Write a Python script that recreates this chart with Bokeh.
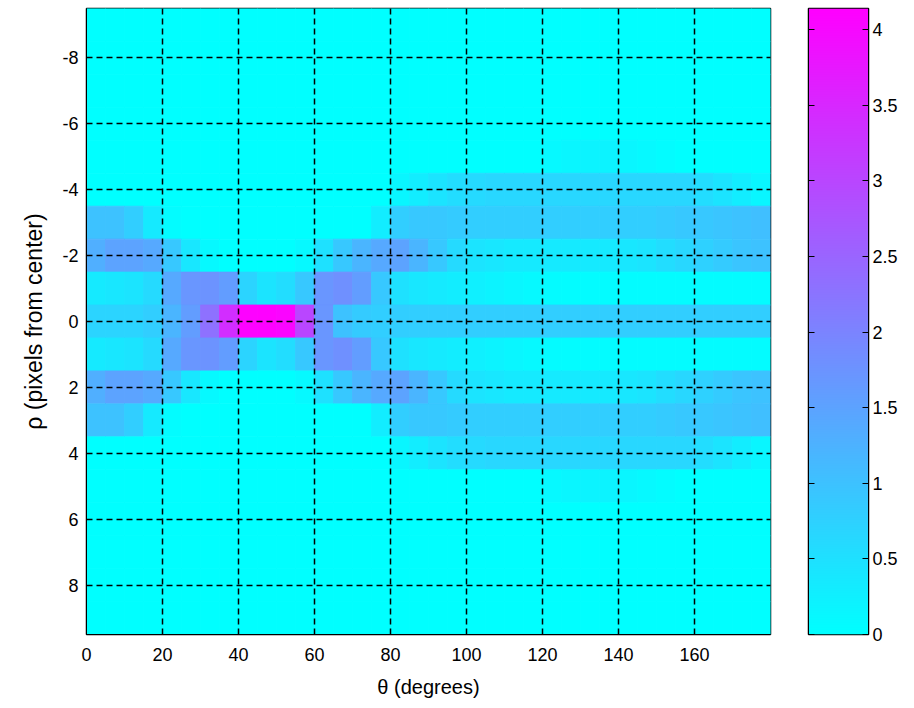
import numpy as np
from bokeh.plotting import figure
from bokeh.layouts import row
from bokeh.models import (ColumnDataSource, LinearColorMapper, FixedTicker, LinearAxis,
                          Range1d, CustomJSTickFormatter)
from bokeh.transform import transform
from bokeh.embed import file_html
from bokeh.resources import INLINE

# ---- data ----
theta_bin_start = list(range(0, 180, 5))      # degrees, left edge of each 5-degree bin
theta_bin_width = 5
rho_levels = list(range(-9, 10))              # pixels from center
theta_ticks = [0, 20, 40, 60, 80, 100, 120, 140, 160]
rho_ticks = [-8, -6, -4, -2, 0, 2, 4, 6, 8]
cbar_ticks = [0, 0.5, 1, 1.5, 2, 2.5, 3, 3.5, 4]
value_max = 4.14

zero_row = [0.0] * 36
rho_m9 = zero_row
rho_m8 = zero_row
rho_m7 = zero_row
rho_m6 = zero_row
rho_m5 = [0, 0, 0, 0, 0, 0, 0, 0, 0, 0, 0, 0, 0, 0, 0, 0, 0, 0, 0, 0, 0, 0, 0, 0,
          0.1, 0.15, 0.2, 0.2, 0.15, 0.1, 0.05, 0, 0, 0, 0, 0]
rho_m4 = [0, 0, 0, 0, 0, 0, 0, 0, 0, 0, 0, 0, 0, 0, 0, 0,
          0.15, 0.3, 0.45, 0.55, 0.6, 0.65, 0.65, 0.65, 0.65, 0.65, 0.65, 0.65,
          0.65, 0.65, 0.65, 0.65, 0.55, 0.45, 0.3, 0.15]
rho_m3 = [1.0, 1.0, 0.8, 0.35, 0.05, 0, 0, 0, 0, 0, 0, 0, 0, 0, 0, 0.3,
          0.8, 0.9, 0.9, 0.85, 0.8, 0.8, 0.8, 0.8, 0.8, 0.8, 0.8, 0.8,
          0.8, 0.8, 0.85, 0.9, 0.9, 0.95, 1.0, 1.05]
rho_m2 = [1.3, 1.5, 1.5, 1.4, 0.9, 0.4, 0.1, 0, 0, 0, 0, 0.1, 0.5, 0.9, 1.2, 1.4,
          1.5, 1.2, 0.9, 0.6, 0.45, 0.4, 0.35, 0.35, 0.35, 0.35, 0.35, 0.35,
          0.4, 0.45, 0.55, 0.65, 0.75, 0.85, 0.95, 1.0]
rho_m1 = [0.35, 0.4, 0.45, 0.6, 1.4, 1.7, 1.75, 1.6, 0.7, 0.45, 0.55, 0.9,
          1.7, 1.8, 1.6, 0.9, 0.5, 0.4, 0.35, 0.3, 0.25, 0.2, 0.15, 0.1,
          0.08, 0.05, 0.05, 0.05, 0.05, 0.05, 0.05, 0.05, 0.05, 0.05, 0.05, 0.05]
rho_0 = [0.7, 0.7, 0.7, 0.8, 1.2, 1.6, 2.3, 3.4, 4.1, 4.12, 4.05, 3.0,
         1.7, 1.0, 0.85, 0.8, 0.8, 0.8, 0.8, 0.8, 0.8, 0.8, 0.8, 0.8,
         0.8, 0.8, 0.8, 0.8, 0.8, 0.8, 0.8, 0.8, 0.8, 0.8, 0.8, 0.8]
rho_p1 = rho_m1
rho_p2 = rho_m2
rho_p3 = rho_m3
rho_p4 = rho_m4
rho_p5 = rho_m5
rho_p6 = zero_row
rho_p7 = zero_row
rho_p8 = zero_row
rho_p9 = zero_row

rows = [rho_m9, rho_m8, rho_m7, rho_m6, rho_m5, rho_m4, rho_m3, rho_m2, rho_m1,
        rho_0, rho_p1, rho_p2, rho_p3, rho_p4, rho_p5, rho_p6, rho_p7, rho_p8, rho_p9]

# ---- build table ----
left, right, top, bottom, vals = [], [], [], [], []
for rho, vrow in zip(rho_levels, rows):
    for t0, v in zip(theta_bin_start, vrow):
        left.append(t0)
        right.append(t0 + theta_bin_width)
        bottom.append(rho - 0.5)
        top.append(rho + 0.5)
        vals.append(float(v))
src = ColumnDataSource(dict(left=left, right=right, top=top, bottom=bottom, v=vals))

cool = ["#%02x%02x%02x" % (int(round(255 * t)), int(round(255 * (1 - t))), 255)
        for t in np.linspace(0, 1, 256)]
mapper = LinearColorMapper(palette=cool, low=0, high=value_max)

FONT = "Liberation Sans"
fmt = "return tick.toString()"

p = figure(width=790, height=700, x_range=Range1d(0, 180), y_range=Range1d(9.5, -9.5),
           output_backend="svg", toolbar_location=None,
           min_border_left=86, min_border_right=20, min_border_top=8, min_border_bottom=60)

p.quad(left="left", right="right", top="top", bottom="bottom", source=src,
       fill_color=transform("v", mapper), line_color=transform("v", mapper), line_width=0.8)

p.outline_line_color = "black"
p.outline_line_width = 1.5

for g, tk in ((p.xgrid, theta_ticks), (p.ygrid, rho_ticks)):
    g.ticker = FixedTicker(ticks=tk)
    g.grid_line_color = "black"
    g.grid_line_dash = "6 4"
    g.grid_line_width = 1.5
    g.level = "overlay"

for ax, tk in ((p.xaxis[0], theta_ticks), (p.yaxis[0], rho_ticks)):
    ax.ticker = FixedTicker(ticks=tk)
    ax.formatter = CustomJSTickFormatter(code=fmt)
    ax.major_tick_in = 5
    ax.major_tick_out = 0
    ax.minor_tick_line_color = None
    ax.axis_line_color = "black"
    ax.major_tick_line_color = "black"
    ax.major_label_text_font = FONT
    ax.major_label_text_font_size = "18px"
    ax.major_label_text_color = "black"
    ax.axis_label_text_font = FONT
    ax.axis_label_text_font_style = "normal"
    ax.axis_label_text_color = "black"

p.xaxis.axis_label = "θ (degrees)"
p.xaxis.axis_label_text_font_size = "20px"
p.xaxis.major_label_standoff = 13
p.xaxis.axis_label_standoff = 12

p.yaxis.axis_label = "ρ (pixels from center)"
p.yaxis.axis_label_text_font_size = "23px"
p.yaxis.major_label_standoff = 8
p.yaxis.axis_label_standoff = 12

# ---- colour bar as its own small figure ----
cb = figure(width=120, height=700, x_range=Range1d(0, 1), y_range=Range1d(0, value_max),
            output_backend="svg", toolbar_location=None, y_axis_location="right",
            min_border_left=18, min_border_right=42, min_border_top=7, min_border_bottom=63)
cb.image(image=[np.linspace(0, value_max, 512).reshape(512, 1)], x=0, y=0, dw=1,
         dh=value_max, color_mapper=mapper)
cb.xaxis.visible = False
cb.grid.visible = False
cb.outline_line_color = "black"
cb.outline_line_width = 1.5
ra = cb.yaxis[0]
ra.ticker = FixedTicker(ticks=cbar_ticks)
ra.formatter = CustomJSTickFormatter(code=fmt)
ra.major_tick_in = 6
ra.major_tick_out = 0
ra.minor_tick_line_color = None
ra.axis_line_color = "black"
ra.major_tick_line_color = "black"
ra.major_label_standoff = 4
ra.major_label_text_font = FONT
ra.major_label_text_font_size = "18px"
ra.major_label_text_color = "black"
la = LinearAxis(ticker=FixedTicker(ticks=cbar_ticks),
                formatter=CustomJSTickFormatter(code="return ''"),
                major_tick_in=6, major_tick_out=0, minor_tick_line_color=None,
                axis_line_color="black", major_tick_line_color="black",
                major_label_standoff=0)
cb.add_layout(la, "left")

layout = row(p, cb)
open("out.html", "w").write(file_html(layout, INLINE))
